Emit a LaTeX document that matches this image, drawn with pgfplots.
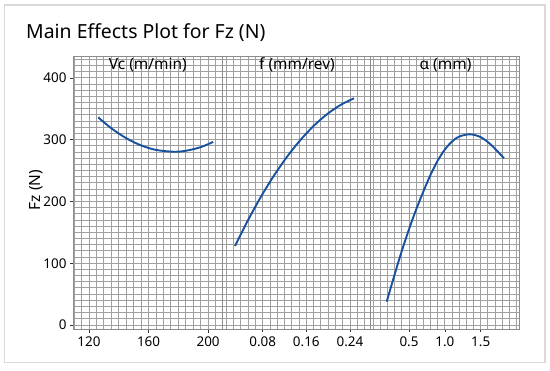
\documentclass[border=0pt]{standalone}
\usepackage{fontspec}
\setmainfont{Noto Sans}
\usepackage{pgfplots}
\usepackage{pgfplotstable}
\pgfplotsset{compat=1.18}
\definecolor{mblue}{RGB}{22,80,158}
\definecolor{gridc}{RGB}{160,160,160}
\definecolor{framec}{RGB}{218,218,218}
\definecolor{axc}{RGB}{140,140,140}

\pgfplotstableread{
x y
126.2 336.0
135.0 318.3
145.0 302.3
155.0 290.6
165.0 283.3
176.6 280.4
185.0 281.9
195.0 287.8
203.4 296.3
}\vcdata

\pgfplotstableread{
x y
0.0292 127.8
0.050 164.6
0.075 204.9
0.100 240.9
0.125 272.7
0.150 300.2
0.175 323.5
0.200 342.5
0.225 357.2
0.2475 366.8
}\fdata

\pgfplotstableread{
x y
0.189 37.7
0.30 82.0
0.40 120.0
0.50 155.0
0.60 187.0
0.70 216.0
0.80 243.0
0.90 266.0
1.00 284.0
1.10 297.0
1.20 305.0
1.35 308.6
1.50 304.0
1.65 291.0
1.825 269.7
}\adata

\pgfplotsset{
  panel/.style={
    scale only axis,
    anchor=south west,
    width=148.5bp, height=272.5bp,
    ymin=-6.5, ymax=434.5,
    ytick={0,100,200,300,400},
    minor ytick={0,10,...,430},
    grid=both,
    major grid style={gridc, line width=0.85bp},
    minor grid style={gridc, line width=0.85bp},
    axis line style={axc, line width=0.9bp},
    tick align=outside,
    major tick length=3.5bp,
    minor tick length=0pt,
    tick style={black!80, line width=0.6bp},
    xtick pos=bottom, ytick pos=left,
    ticklabel style={font=\fontsize{13.5}{15}\selectfont},
    /pgf/number format/assume math mode=true,
    xticklabel style={yshift=-0.5bp},
  },
  curve/.style={mblue, line width=1.9bp, smooth, no marks},
}

\begin{document}
\begin{tikzpicture}
\useasboundingbox (0bp,0bp) rectangle (550bp,371bp);
\fill[white] (0bp,0bp) rectangle (550bp,371bp);
\draw[framec, line width=1.5bp] (4.5bp,8.5bp) rectangle (545bp,366bp);

\node[anchor=base west, font=\fontsize{19.5}{22}\selectfont, inner sep=0pt] at (26bp,332bp) {Main Effects Plot for Fz (N)};

\begin{axis}[panel, at={(73.5bp,42bp)},
  xmin=109.6, xmax=209.3,
  xtick={120,160,200},
  minor xtick={110,115,...,205},
]
\addplot[curve] table {\vcdata};
\end{axis}

\begin{axis}[panel, at={(222bp,42bp)}, width=148.8bp,
  xmin=0.0053, xmax=0.2783,
  xtick={0.08,0.16,0.24},
  xticklabels={0.08,0.16,0.24},
  minor xtick={0.013333,0.026667,0.04,0.053333,0.066667,0.093333,0.106667,0.12,0.133333,0.146667,0.173333,0.186667,0.2,0.213333,0.226667,0.253333,0.266667},
  yticklabels={}, y tick style={draw=none},
]
\addplot[curve] table {\fdata};
\end{axis}

\begin{axis}[panel, at={(370.8bp,42bp)},
  xmin=-0.033, xmax=2.038,
  xtick={0.5,1.0,1.5},
  xticklabels={0.5,1.0,1.5},
  minor xtick={0,0.1,...,2.01},
  yticklabels={}, y tick style={draw=none},
]
\addplot[curve] table {\adata};
\end{axis}

\node[anchor=base, font=\fontsize{15.5}{18}\selectfont] at (147.8bp,301.5bp) {Vc (m/min)};
\node[anchor=base, font=\fontsize{15.5}{18}\selectfont] at (297bp,301.5bp) {f (mm/rev)};
\node[anchor=base, font=\fontsize{15.5}{18}\selectfont] at (445.5bp,301.5bp) {α (mm)};

\node[rotate=90, font=\fontsize{15.5}{18}\selectfont] at (36bp,181bp) {Fz (N)};
\end{tikzpicture}
\end{document}
